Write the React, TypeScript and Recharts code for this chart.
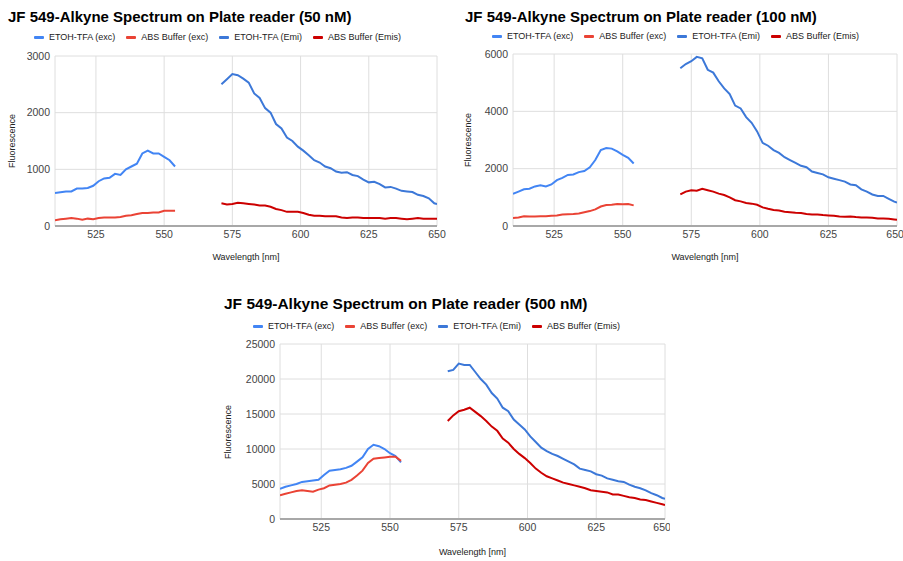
import { LineChart, Line, XAxis, YAxis, CartesianGrid } from 'recharts'

// wavelengths (nm) for the excitation and emission scans
const excWavelengths = [510, 512, 514, 516, 518, 520, 522, 524, 526, 528, 530, 532, 534, 536, 538, 540, 542, 544, 546, 548, 550, 552, 554]
const emiWavelengths = [571, 573, 575, 577, 579, 581, 583, 585, 587, 589, 591, 593, 595, 597, 599, 601, 603, 605, 607, 609, 611, 613, 615, 617, 619, 621, 623, 625, 627, 629, 631, 633, 635, 637, 639, 641, 643, 645, 647, 649, 650]

// 50 nM
const etohExc50 = [580, 595, 610, 610, 660, 660, 670, 710, 790, 840, 850, 920, 900, 1000, 1050, 1100, 1280, 1330, 1280, 1280, 1220, 1160, 1050]
const absExc50 = [100, 120, 130, 140, 130, 110, 130, 120, 140, 150, 150, 150, 160, 180, 190, 210, 230, 230, 240, 240, 270, 270, 270]
const etohEmi50 = [2500, 2590, 2680, 2660, 2600, 2530, 2340, 2260, 2080, 2000, 1800, 1720, 1560, 1500, 1400, 1330, 1250, 1160, 1120, 1050, 1020, 960, 940, 950, 900, 880, 820, 770, 780, 740, 680, 690, 660, 620, 610, 600, 550, 530, 490, 400, 390]
const absEmi50 = [400, 380, 390, 410, 400, 390, 380, 360, 360, 340, 300, 280, 250, 250, 250, 230, 200, 180, 180, 170, 170, 170, 150, 140, 150, 150, 140, 140, 140, 140, 130, 140, 140, 130, 120, 130, 140, 130, 130, 130, 130]

// 100 nM
const etohExc100 = [1120, 1200, 1280, 1300, 1380, 1420, 1380, 1450, 1600, 1680, 1780, 1800, 1880, 1920, 2050, 2300, 2650, 2720, 2700, 2600, 2480, 2380, 2180]
const absExc100 = [280, 300, 340, 330, 330, 340, 340, 360, 370, 400, 410, 420, 440, 480, 520, 580, 680, 730, 740, 770, 760, 770, 720]
const etohEmi100 = [5500, 5650, 5750, 5900, 5850, 5450, 5350, 5050, 4800, 4600, 4200, 4100, 3800, 3600, 3300, 2900, 2800, 2650, 2550, 2400, 2300, 2200, 2100, 2050, 1900, 1850, 1800, 1700, 1650, 1600, 1550, 1450, 1420, 1280, 1200, 1100, 1050, 1050, 950, 850, 820]
const absEmi100 = [1100, 1200, 1250, 1230, 1300, 1250, 1200, 1130, 1080, 1000, 900, 860, 800, 780, 740, 650, 600, 560, 540, 500, 480, 460, 450, 420, 400, 400, 380, 370, 360, 330, 320, 330, 310, 300, 300, 290, 260, 260, 250, 230, 220]

// 500 nM
const etohExc500 = [4300, 4600, 4800, 5000, 5300, 5400, 5500, 5600, 6300, 6900, 7000, 7100, 7300, 7600, 8200, 8800, 10000, 10600, 10400, 10000, 9400, 9000, 8100]
const absExc500 = [3400, 3600, 3800, 4000, 4100, 4000, 3900, 4200, 4400, 4800, 4900, 5000, 5200, 5600, 6200, 6900, 8000, 8600, 8700, 8800, 8900, 8900, 8300]
const etohEmi500 = [21100, 21300, 22200, 22000, 22000, 21000, 20000, 19200, 18000, 17200, 15900, 15400, 14200, 13500, 12800, 11800, 11000, 10200, 9700, 9300, 9000, 8600, 8200, 7800, 7200, 7000, 6800, 6400, 6200, 5800, 5600, 5400, 5300, 4900, 4600, 4400, 4100, 3700, 3400, 3000, 2900]
const absEmi500 = [14000, 14800, 15400, 15600, 15900, 15300, 14700, 14000, 13200, 12600, 11500, 10900, 10000, 9300, 8700, 8000, 7200, 6600, 6100, 5800, 5500, 5200, 5000, 4800, 4600, 4400, 4100, 4000, 3900, 3800, 3500, 3500, 3300, 3100, 3000, 2800, 2700, 2500, 2300, 2100, 2000]

const seriesKeys = ['etohExc', 'absExc', 'etohEmi', 'absEmi']
const seriesNames = ['ETOH-TFA (exc)', 'ABS Buffer (exc)', 'ETOH-TFA (Emi)', 'ABS Buffer (Emis)']
const seriesColors = ['#4285f4', '#ea4335', '#3c78d8', '#cc0000']

const xTicks = [525, 550, 575, 600, 625, 650]
const yTicks50 = [0, 1000, 2000, 3000]
const yTicks100 = [0, 2000, 4000, 6000]
const yTicks500 = [0, 5000, 10000, 15000, 20000, 25000]

const font = '"Liberation Sans", Arial, sans-serif'

function buildRows(etohExc: number[], absExc: number[], etohEmi: number[], absEmi: number[]) {
  const exc = excWavelengths.map((wl, i) => ({ wl, etohExc: etohExc[i], absExc: absExc[i] }))
  const emi = emiWavelengths.map((wl, i) => ({ wl, etohEmi: etohEmi[i], absEmi: absEmi[i] }))
  return [...exc, ...emi]
}

interface PanelProps {
  title: string
  left: number
  top: number
  width: number
  height: number
  margin: { top: number; right: number; bottom: number; left: number }
  yTicks: number[]
  rows: any[]
  titleSize: number
  titleTop: number
  titleLeft: number
  legendTop: number
  legendLeft: number
  yLabelX: number
  xLabelTop: number
}

function Panel(p: PanelProps) {
  const plotTop = p.margin.top
  const plotBottom = p.height - p.margin.bottom - 30
  const plotLeft = p.margin.left + 45
  const plotRight = p.width - p.margin.right
  return (
    <div style={{ position: 'absolute', left: p.left, top: p.top, width: p.width, height: p.height, fontFamily: font }}>
      <div style={{ position: 'absolute', left: p.titleLeft, top: p.titleTop, fontSize: p.titleSize, lineHeight: 1, fontWeight: 'bold', color: '#000', whiteSpace: 'nowrap' }}>
        {p.title}
      </div>
      <div style={{ position: 'absolute', left: p.legendLeft, top: p.legendTop, display: 'flex', alignItems: 'center', fontSize: 9, lineHeight: '12px', color: '#222', whiteSpace: 'nowrap' }}>
        {seriesNames.map((name, i) => (
          <div key={name} style={{ display: 'flex', alignItems: 'center', marginRight: 11 }}>
            <span style={{ display: 'inline-block', width: 10, height: 3, borderRadius: 1, background: seriesColors[i], marginRight: 5 }} />
            {name}
          </div>
        ))}
      </div>
      <div style={{ position: 'absolute', left: p.yLabelX, top: (plotTop + plotBottom) / 2, transform: 'translate(-50%, -50%) rotate(-90deg)', fontSize: 9, color: '#222', whiteSpace: 'nowrap' }}>
        Fluorescence
      </div>
      <div style={{ position: 'absolute', left: (plotLeft + plotRight) / 2, top: p.xLabelTop, transform: 'translateX(-50%)', fontSize: 9, color: '#222', whiteSpace: 'nowrap' }}>
        Wavelength [nm]
      </div>
      <div style={{ position: 'absolute', left: 0, top: 0 }}>
        <LineChart width={p.width} height={p.height} data={p.rows} margin={p.margin}>
          <CartesianGrid stroke="#dedede" strokeWidth={1} />
          <XAxis
            dataKey="wl"
            type="number"
            domain={[510, 650]}
            ticks={xTicks}
            allowDataOverflow
            height={30}
            tickLine={false}
            tickSize={0}
            tickMargin={5}
            axisLine={{ stroke: '#a8a8a8', strokeWidth: 2 }}
            tick={{ fill: '#444', fontSize: 10.5, fontFamily: font }}
          />
          <YAxis
            type="number"
            domain={[0, p.yTicks[p.yTicks.length - 1]]}
            ticks={p.yTicks}
            width={45}
            tickLine={false}
            tickSize={0}
            tickMargin={5}
            axisLine={false}
            tick={{ fill: '#444', fontSize: 10.5, fontFamily: font }}
          />
          {seriesKeys.map((key, i) => (
            <Line
              key={key}
              dataKey={key}
              name={seriesNames[i]}
              type="linear"
              stroke={seriesColors[i]}
              strokeWidth={2}
              dot={false}
              activeDot={false}
              isAnimationActive={false}
            />
          ))}
        </LineChart>
      </div>
    </div>
  )
}

export default function App() {
  return (
    <div style={{ position: 'absolute', left: 0, top: 0, width: 903, height: 561, background: '#fff' }}>
      <Panel
        title="JF 549-Alkyne Spectrum on Plate reader (50 nM)"
        left={0}
        top={0}
        width={450}
        height={270}
        margin={{ top: 56, right: 13, bottom: 14, left: 10 }}
        yTicks={yTicks50}
        rows={buildRows(etohExc50, absExc50, etohEmi50, absEmi50)}
        titleSize={15}
        titleTop={9}
        titleLeft={8}
        legendTop={31}
        legendLeft={34}
        yLabelX={12}
        xLabelTop={252}
      />
      <Panel
        title="JF 549-Alkyne Spectrum on Plate reader (100 nM)"
        left={450}
        top={0}
        width={453}
        height={270}
        margin={{ top: 54, right: 6, bottom: 14, left: 18 }}
        yTicks={yTicks100}
        rows={buildRows(etohExc100, absExc100, etohEmi100, absEmi100)}
        titleSize={15}
        titleTop={9}
        titleLeft={15}
        legendTop={30}
        legendLeft={42}
        yLabelX={18}
        xLabelTop={252}
      />
      <Panel
        title="JF 549-Alkyne Spectrum on Plate reader (500 nM)"
        left={210}
        top={285}
        width={460}
        height={276}
        margin={{ top: 59, right: 5, bottom: 12, left: 25 }}
        yTicks={yTicks500}
        rows={buildRows(etohExc500, absExc500, etohEmi500, absEmi500)}
        titleSize={15.5}
        titleTop={11}
        titleLeft={14}
        legendTop={35}
        legendLeft={43}
        yLabelX={18}
        xLabelTop={262}
      />
    </div>
  )
}
